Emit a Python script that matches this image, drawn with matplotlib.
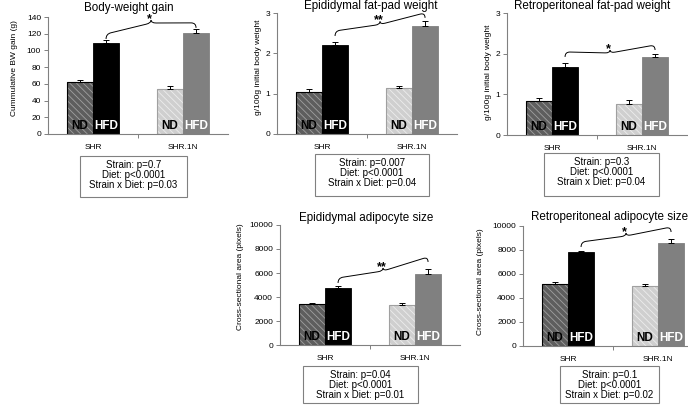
import numpy as np
import matplotlib
matplotlib.use('Agg')
import matplotlib.pyplot as plt
from matplotlib.path import Path
from matplotlib.patches import PathPatch, Rectangle

plt.rcParams['font.family'] = ['Liberation Sans', 'DejaVu Sans']
plt.rcParams['hatch.linewidth'] = 0.6

W, H = 688, 409

# data: order is SHR ND, SHR HFD, SHR.1N ND, SHR.1N HFD
strains = ['SHR', 'SHR.1N']
diets = ['ND', 'HFD']

bw_gain = [62, 108.5, 53.5, 120.5]
bw_gain_err = [2.7, 4, 4, 5]
epi_fat = [1.05, 2.21, 1.13, 2.68]
epi_fat_err = [0.06, 0.06, 0.06, 0.13]
retro_fat = [0.84, 1.66, 0.76, 1.91]
retro_fat_err = [0.08, 0.1, 0.1, 0.08]
epi_cell = [3390, 4720, 3330, 5920]
epi_cell_err = [140, 220, 140, 380]
retro_cell = [5140, 7800, 5000, 8610]
retro_cell_err = [200, 110, 200, 280]

titles = ['Body-weight gain', 'Epididymal fat-pad weight',
          'Retroperitoneal fat-pad weight', 'Epididymal adipocyte size',
          'Retroperitoneal adipocyte size']
ylabels = ['Cummulative BW gain (g)', 'g/100g initial body weight',
           'g/100g initial body weight', 'Cross-sectional area (pixels)',
           'Cross-sectional area (pixels)']
stats = [['Strain: p=0.7', 'Diet: p<0.0001', 'Strain x Diet: p=0.03'],
         ['Strain: p=0.007', 'Diet: p<0.0001', 'Strain x Diet: p=0.04'],
         ['Strain: p=0.3', 'Diet: p<0.0001', 'Strain x Diet: p=0.04'],
         ['Strain: p=0.04', 'Diet: p<0.0001', 'Strain x Diet: p=0.01'],
         ['Strain: p=0.1', 'Diet: p<0.0001', 'Strain x Diet: p=0.02']]
stars = ['*', '**', '*', '**', '*']
# brace: left end, tip, right end (data units)
braces = [(113.7, 136.4, 127), (2.43, 2.79, 2.88), (1.92, 2.09, 2.09),
          (5170, 6420, 6920), (8250, 9420, 9500)]
yticks = [np.arange(0, 141, 20), [0, 1, 2, 3], [0, 1, 2, 3],
          np.arange(0, 10001, 2000), np.arange(0, 10001, 2000)]

values = [bw_gain, epi_fat, retro_fat, epi_cell, retro_cell]
errors = [bw_gain_err, epi_fat_err, retro_fat_err, epi_cell_err, retro_cell_err]

# layout in pixels: left, right, top, bottom of the axes
rects = [(48, 228, 17, 134), (277, 457, 13, 134), (507, 687, 13, 135),
         (280, 460, 225, 345), (523, 703, 226, 346)]
title_pos = [(129, 7.5), (371, 6), (592, 6), (366, 218), (610, 217)]
ylabel_pos = [(15, 68), (258, 67), (488, 72), (240, 277), (480, 282)]
boxes = [(80, 187, 156, 197), (315, 429, 154, 196), (544, 659, 153, 196),
         (303, 418, 366, 403), (560, 659, 366, 403)]

face = ['#5e5e5e', 'black', '#cfcfcf', '#808080']
hatch_col = ['#a0a0a0', None, '#ededed', None]
edge = ['black', 'black', '#a0a0a0', '#808080']
label_col = ['black', 'white', 'black', 'white']
w = 0.29


def fx(x):
    return x / W


def fy(y):
    return 1 - y / H


def draw_brace(ax, x0, y0, xc, yc, x1, y1, curl=5, tip=3):
    T = ax.transData
    C = T.transform((xc, yc))
    for xe, ye in [(x0, y0), (x1, y1)]:
        E = T.transform((xe, ye))
        A = E + np.array([0, curl])
        B = C - np.array([0, tip])
        d = (B - A) / np.hypot(*(B - A))
        s = min(curl, np.hypot(*(B - A)) / 3)
        verts = [E, A, A + s * d, B - s * d, B, C]
        codes = [Path.MOVETO, Path.CURVE3, Path.CURVE3, Path.LINETO,
                 Path.CURVE3, Path.CURVE3]
        verts = T.inverted().transform(np.array(verts))
        ax.add_patch(PathPatch(Path(verts, codes), fill=False, lw=0.7,
                               edgecolor='black', clip_on=False))


fig = plt.figure(figsize=(W / 100, H / 100), dpi=100)

for k in range(5):
    l, r, t, b = rects[k]
    ax = fig.add_axes([fx(l), fy(b), (r - l) / W, (b - t) / H])
    vals = values[k]
    errs = errors[k]
    xs = []
    for i in range(2):
        xs += [i - w / 2, i + w / 2]
    for j in range(4):
        if hatch_col[j]:
            ax.bar(xs[j], vals[j], w, color=face[j], edgecolor=hatch_col[j],
                   hatch='\\\\\\\\\\', lw=0)
            ax.bar(xs[j], vals[j], w, fill=False, edgecolor=edge[j], lw=0.8)
        else:
            ax.bar(xs[j], vals[j], w, color=face[j], edgecolor=edge[j], lw=0.6)
        ax.annotate(diets[j % 2], (xs[j], 0), xytext=(0, 1.5),
                    textcoords='offset points', ha='center', va='bottom',
                    fontsize=8.5, fontweight='bold', color=label_col[j])
    ax.errorbar(xs, vals, yerr=[np.zeros(4), errs], fmt='none',
                ecolor='black', elinewidth=0.7, capsize=2.5, capthick=0.7)

    ax.set_xlim(-0.5, 1.5)
    ax.set_ylim(0, yticks[k][-1])
    ax.set_yticks(yticks[k])
    ax.set_xticks([0, 1])
    ax.set_xticklabels(strains)
    ax.set_xticks([0.5], minor=True)
    for s in ['top', 'right']:
        ax.spines[s].set_visible(False)
    for s in ['left', 'bottom']:
        ax.spines[s].set_color('#808080')
        ax.spines[s].set_linewidth(0.8)
    ax.tick_params(axis='y', length=3, width=0.7, color='#808080',
                   labelsize=6, pad=2)
    ax.tick_params(axis='x', which='major', length=0, labelsize=6, pad=7.5)
    ax.tick_params(axis='x', which='minor', length=3, width=0.7,
                   color='#808080')

    y0, yc, y1 = braces[k]
    xc = (xs[1] + xs[3]) / 2
    draw_brace(ax, xs[1], y0, xc, yc, xs[3], y1)
    ax.annotate(stars[k], (xc, yc), xytext=(-1, -1.5), textcoords='offset points',
                ha='center', va='baseline', fontsize=9, fontweight='bold',
                annotation_clip=False)

    tx, ty = title_pos[k]
    fig.text(fx(tx), fy(ty), titles[k], ha='center', va='center', fontsize=8.4)
    lx, ly = ylabel_pos[k]
    fig.text(fx(lx), fy(ly), ylabels[k], ha='center', va='center',
             rotation=90, fontsize=6)

    bl, br, bt, bb = boxes[k]
    fig.add_artist(Rectangle((fx(bl), fy(bb)), (br - bl) / W, (bb - bt) / H,
                             transform=fig.transFigure, fill=False,
                             edgecolor='#808080', lw=0.8))
    for n, line in enumerate(stats[k]):
        fig.text(fx((bl + br) / 2), fy(bt + 9 + 10 * n), line, ha='center',
                 va='center', fontsize=7)

fig.savefig('out.png', dpi=100)
